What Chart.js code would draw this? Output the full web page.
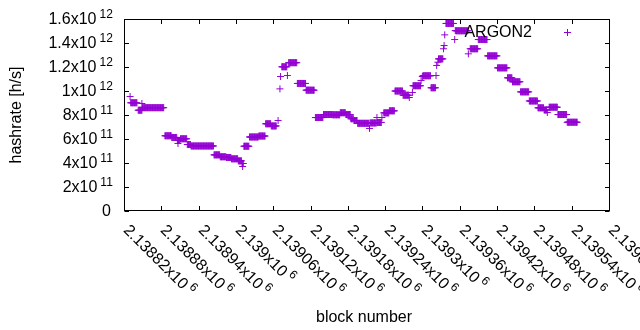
<!DOCTYPE html>
<html>
<head>
<meta charset="utf-8">
<script src="https://cdn.jsdelivr.net/npm/chart.js@4.4.1/dist/chart.umd.min.js"></script>
<style>
  body { margin: 0; background: #fff; }
</style>
</head>
<body>
<canvas id="chartHashrate" width="640" height="330"></canvas>
<script>
// hashrate: first block, last block, hashrate in units of 1e11 h/s
const runFirst = [
  2138829, 2138830, 2138842, 2138848, 2138849, 2138885, 2138896, 2138905, 2138906, 2138910,
  2138921, 2138927, 2138964, 2138974, 2138984, 2138992, 2139003, 2139009, 2139010, 2139012,
  2139021, 2139036, 2139047, 2139056, 2139067, 2139070, 2139071, 2139073, 2139082, 2139084,
  2139098, 2139112, 2139127, 2139140, 2139155, 2139167, 2139176, 2139184, 2139189, 2139195,
  2139214, 2139215, 2139226, 2139227, 2139234, 2139237, 2139246, 2139255, 2139268, 2139278,
  2139283, 2139284, 2139297, 2139299, 2139300, 2139313, 2139321, 2139322, 2139324, 2139325,
  2139333, 2139334, 2139335, 2139337, 2139351, 2139352, 2139353, 2139373, 2139376, 2139389,
  2139404, 2139420, 2139436, 2139444, 2139457, 2139471, 2139485, 2139495, 2139500, 2139503,
  2139517, 2139532
];
const runLast = [
  2138829, 2138840, 2138848, 2138848, 2138883, 2138895, 2138904, 2138909, 2138906, 2138920,
  2138926, 2138963, 2138973, 2138983, 2138991, 2139002, 2139008, 2139011, 2139010, 2139020,
  2139035, 2139046, 2139055, 2139064, 2139067, 2139070, 2139071, 2139081, 2139082, 2139097,
  2139111, 2139125, 2139139, 2139154, 2139166, 2139175, 2139183, 2139188, 2139194, 2139213,
  2139214, 2139225, 2139226, 2139233, 2139234, 2139245, 2139254, 2139267, 2139277, 2139278,
  2139283, 2139296, 2139297, 2139299, 2139312, 2139320, 2139321, 2139322, 2139324, 2139332,
  2139333, 2139334, 2139335, 2139349, 2139351, 2139352, 2139372, 2139373, 2139388, 2139403,
  2139419, 2139435, 2139443, 2139456, 2139470, 2139484, 2139494, 2139499, 2139500, 2139516,
  2139531, 2139548
];
const runRate = [
  9.58, 9.06, 8.44, 9.0, 8.65, 6.31, 6.17, 5.92, 5.67, 6.06,
  5.58, 5.46, 4.72, 4.56, 4.50, 4.39, 4.22, 4.00, 3.75, 5.44,
  6.21, 6.29, 7.31, 7.13, 7.58, 10.22, 11.25, 12.06, 11.33, 12.40,
  10.67, 10.11, 7.83, 8.08, 8.06, 8.23, 8.08, 7.73, 7.58, 7.35,
  6.92, 7.38, 7.83, 7.42, 7.83, 8.22, 8.39, 10.04, 9.69, 9.50,
  9.92, 10.48, 10.92, 11.25, 11.31, 10.31, 11.33, 12.17, 12.44, 12.72,
  13.56, 13.83, 14.72, 15.67, 14.33, 15.08, 15.06, 13.14, 13.56, 14.33,
  12.97, 11.97, 11.14, 10.81, 9.97, 9.21, 8.64, 8.46, 8.25, 8.69,
  8.08, 7.44
];

const xTicks = [
  2138820, 2138880, 2138940, 2139000, 2139060, 2139120, 2139180,
  2139240, 2139300, 2139360, 2139420, 2139480, 2139540, 2139600
];
const yTicks = [0, 2e11, 4e11, 6e11, 8e11, 1e12, 1.2e12, 1.4e12, 1.6e12];

const seriesName = "ARGON2";
const xTitle = "block number";
const yTitle = "hashrate [h/s]";

const points = [];
runFirst.forEach((first, i) => {
  for (let b = first; b <= runLast[i]; b++) {
    points.push({ x: b, y: runRate[i] * 1e11 });
  }
});

const FONT = "Liberation Sans, Arial, sans-serif";
const PURPLE = "#9400d3";

// "2.139x10^6" style label split in mantissa and exponent
const sciParts = (v) => {
  if (v === 0) return ["0", ""];
  const e = Math.floor(Math.log10(v) + 1e-9);
  const m = parseFloat((v / Math.pow(10, e)).toPrecision(6));
  return [m + "x10", String(e)];
};

const gnuplotFrame = {
  id: "gnuplotFrame",
  afterDraw(chart) {
    const { ctx, chartArea: a } = chart;
    const xs = chart.scales.x;
    const ys = chart.scales.y;
    const left = Math.floor(a.left) + 0.5;
    const right = Math.floor(a.right) + 0.5;
    const top = Math.floor(a.top) + 0.5;
    const bottom = Math.floor(a.bottom) - 0.5;

    ctx.save();
    ctx.strokeStyle = "#000";
    ctx.lineWidth = 1;
    ctx.strokeRect(left, top, right - left, bottom - top);

    ctx.beginPath();
    yTicks.forEach((v) => {
      const py = Math.floor(ys.getPixelForValue(v)) + 0.5;
      ctx.moveTo(left, py); ctx.lineTo(left + 4.5, py);
      ctx.moveTo(right, py); ctx.lineTo(right - 4.5, py);
    });
    xTicks.forEach((v) => {
      const px = Math.floor(xs.getPixelForValue(v)) + 0.5;
      ctx.moveTo(px, bottom); ctx.lineTo(px, bottom - 4.5);
      ctx.moveTo(px, top); ctx.lineTo(px, top + 4.5);
    });
    ctx.stroke();

    ctx.fillStyle = "#000";
    ctx.textBaseline = "alphabetic";

    // y tick labels
    yTicks.forEach((v) => {
      const py = ys.getPixelForValue(v);
      const [mant, exp] = sciParts(v);
      if (!exp) {
        ctx.font = "16px " + FONT;
        ctx.textAlign = "right";
        ctx.fillText(mant, 111, py + 4.8);
        return;
      }
      ctx.font = "12px " + FONT;
      ctx.textAlign = "right";
      const ew = ctx.measureText(exp).width;
      ctx.fillText(exp, 112.8, py - 1.7);
      ctx.font = "16px " + FONT;
      ctx.fillText(mant, 112.8 - ew - 3, py + 4.8);
    });

    // x tick labels, rotated
    xTicks.forEach((v) => {
      const px = Math.floor(xs.getPixelForValue(v));
      const [mant, exp] = sciParts(v);
      ctx.save();
      ctx.translate(px - 1.2, 231);
      ctx.rotate(Math.PI / 4);
      ctx.textAlign = "left";
      ctx.font = "16px " + FONT;
      ctx.fillText(mant, 0, 0);
      const mw = ctx.measureText(mant).width;
      ctx.font = "12px " + FONT;
      ctx.fillText(exp, mw + 3, -6.6);
      ctx.restore();
    });

    // axis titles
    ctx.font = "16px " + FONT;
    ctx.textAlign = "center";
    ctx.fillText(xTitle, 364, 322.3);
    ctx.save();
    ctx.translate(20.8, 115);
    ctx.rotate(-Math.PI / 2);
    ctx.fillText(yTitle, 0, 0);
    ctx.restore();

    // key, top right: text then sample
    ctx.textAlign = "right";
    ctx.fillText(seriesName, 532, 36.7);
    ctx.strokeStyle = PURPLE;
    ctx.beginPath();
    ctx.moveTo(564, 32.5); ctx.lineTo(571, 32.5);
    ctx.moveTo(567.5, 29); ctx.lineTo(567.5, 36);
    ctx.stroke();
    ctx.restore();
  },
};

const ctx = document.getElementById("chartHashrate").getContext("2d");
const myChart = new Chart(ctx, {
  type: "scatter",
  data: {
    datasets: [
      {
        label: seriesName,
        data: points,
        pointStyle: "cross",
        pointRadius: 3.5,
        pointHoverRadius: 3.5,
        borderWidth: 1,
        borderColor: PURPLE,
        backgroundColor: PURPLE,
      },
    ],
  },
  options: {
    responsive: false,
    animation: false,
    devicePixelRatio: 1,
    layout: {
      padding: { left: 124.5, right: 30.5, top: 19.5, bottom: 118.5 },
    },
    plugins: {
      legend: { display: false },
      tooltip: { enabled: false },
    },
    scales: {
      x: {
        type: "linear",
        display: false,
        min: xTicks[0],
        max: xTicks[xTicks.length - 1],
      },
      y: {
        type: "linear",
        display: false,
        min: yTicks[0],
        max: yTicks[yTicks.length - 1],
      },
    },
  },
  plugins: [gnuplotFrame],
});
</script>
</body>
</html>
